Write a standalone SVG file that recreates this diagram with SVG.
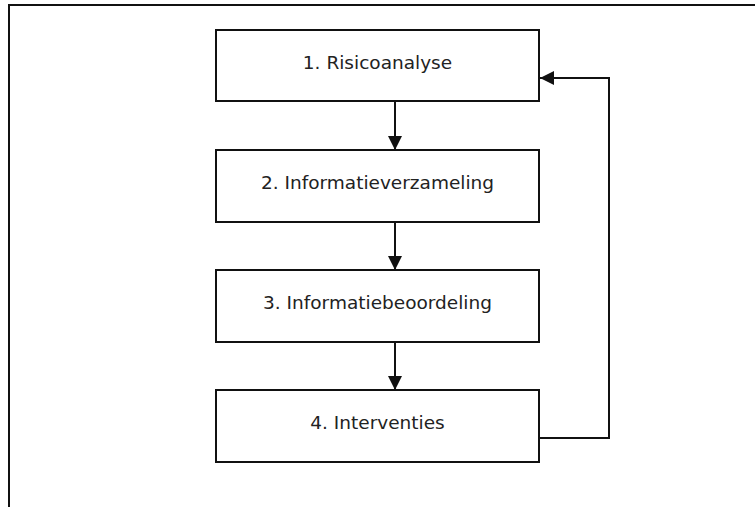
<svg xmlns="http://www.w3.org/2000/svg" width="755" height="507" viewBox="0 0 755 507">
<style>
.box{fill:#fff;stroke:#111;stroke-width:2}
.lbl{font-family:"DejaVu Sans",Verdana,sans-serif;font-size:18.5px;fill:#222;text-anchor:middle}
.con{fill:none;stroke:#111;stroke-width:2}
</style>
<defs>
<marker id="ah" markerWidth="14" markerHeight="14" refX="14" refY="7" orient="auto" markerUnits="userSpaceOnUse">
<path d="M0,0 L14,7 L0,14 Z" fill="#111"/>
</marker>
</defs>
<rect width="755" height="507" fill="#fff"/>
<g id="frame"><path d="M9,507 V5 H755" fill="none" stroke="#111" stroke-width="2"/></g>
<g id="n1"><rect class="box" x="216" y="30" width="323" height="71"/><text class="lbl" x="377.5" y="69">1. Risicoanalyse</text></g>
<g id="n2"><rect class="box" x="216" y="150" width="323" height="72"/><text class="lbl" x="377.5" y="189">2. Informatieverzameling</text></g>
<g id="n3"><rect class="box" x="216" y="270" width="323" height="72"/><text class="lbl" x="377.5" y="309">3. Informatiebeoordeling</text></g>
<g id="n4"><rect class="box" x="216" y="390" width="323" height="72"/><text class="lbl" x="377.5" y="429">4. Interventies</text></g>
<g id="connectors">
<path class="con" d="M395,101 V150" marker-end="url(#ah)"/>
<path class="con" d="M395,222 V270" marker-end="url(#ah)"/>
<path class="con" d="M395,342 V390" marker-end="url(#ah)"/>
<path class="con" d="M539,438 H609 V78 H540" marker-end="url(#ah)"/>
</g>
</svg>
